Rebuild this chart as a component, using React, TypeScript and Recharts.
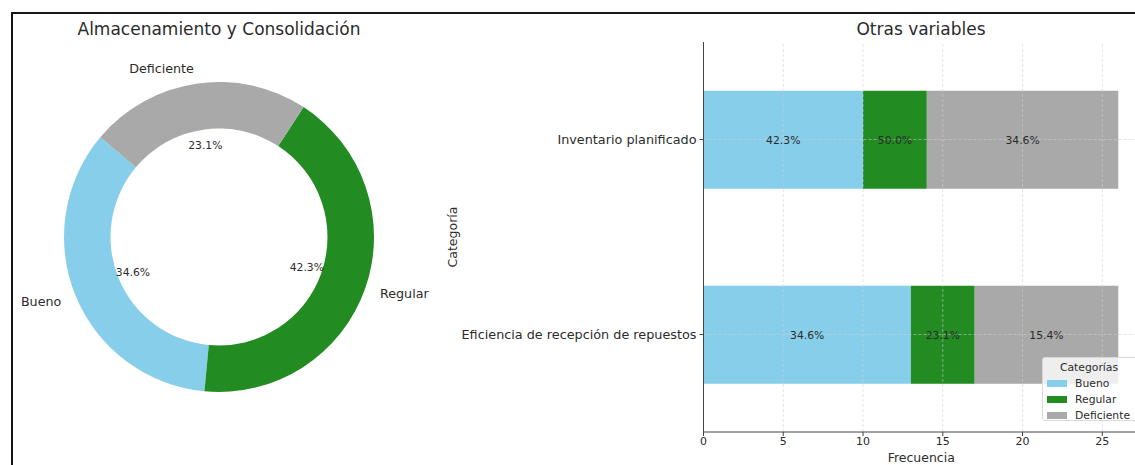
import { Bar, BarChart, Cell, LabelList, Pie, PieChart, ReferenceLine, XAxis, YAxis } from "recharts";

// Almacenamiento y Consolidación (counts per rating)
const pieNames = ["Bueno", "Regular", "Deficiente"];
const pieCounts = [9, 11, 6];

// Otras variables
const categories = ["Inventario planificado", "Eficiencia de recepción de repuestos"];
const buenoCounts = [10, 13];
const regularCounts = [4, 4];
const deficienteCounts = [12, 9];
const buenoLabels = ["42.3%", "34.6%"];
const regularLabels = ["50.0%", "23.1%"];
const deficienteLabels = ["34.6%", "15.4%"];
const xTicks = [0, 5, 10, 15, 20, 25];

const COLORS: Record<string, string> = {
  Bueno: "#87ceeb",
  Regular: "#228b22",
  Deficiente: "#a9a9a9",
};

const FONT = "'DejaVu Sans', Verdana, sans-serif";
const TEXT = "#2b2b2b";
const RADIAN = Math.PI / 180;

const pieData = pieNames.map((name, i) => ({ name, value: pieCounts[i] }));

const barData = categories.map((name, i) => ({
  name,
  Bueno: buenoCounts[i],
  Regular: regularCounts[i],
  Deficiente: deficienteCounts[i],
  buenoLabel: buenoLabels[i],
  regularLabel: regularLabels[i],
  deficienteLabel: deficienteLabels[i],
}));

function PieLabel(props: any) {
  const { cx, cy, midAngle, outerRadius, percent, name } = props;
  const cos = Math.cos(-midAngle * RADIAN);
  const sin = Math.sin(-midAngle * RADIAN);
  const rp = outerRadius * 0.6;
  const rn = outerRadius * 1.1;
  const nx = cx + rn * cos;
  return (
    <g>
      <text
        x={cx + rp * cos}
        y={cy + rp * sin}
        textAnchor="middle"
        dominantBaseline="central"
        fontSize={10.8}
        fontFamily={FONT}
        fill={TEXT}
      >
        {(percent * 100).toFixed(1)}%
      </text>
      <text
        x={nx}
        y={cy + rn * sin}
        textAnchor={nx < cx ? "end" : "start"}
        dominantBaseline="central"
        fontSize={12.7}
        fontFamily={FONT}
        fill={TEXT}
      >
        {name}
      </text>
    </g>
  );
}

const barLabelStyle = { fontSize: 10.8, fontFamily: FONT, fill: TEXT };
const gridProps = { stroke: "#d0d0d0", strokeOpacity: 0.55, strokeDasharray: "3 2" };

export default function App() {
  return (
    <div
      style={{
        position: "fixed",
        left: 0,
        top: 0,
        width: 1135,
        height: 465,
        overflow: "hidden",
        background: "#fff",
        fontFamily: FONT,
      }}
    >
      <div
        style={{
          position: "absolute",
          left: 11,
          top: 12,
          width: 1200,
          height: 520,
          borderTop: "2px solid #151515",
          borderLeft: "2px solid #151515",
        }}
      />

      <div
        style={{
          position: "absolute",
          left: 0,
          width: 438,
          top: 19,
          textAlign: "center",
          fontSize: 17,
          color: TEXT,
          whiteSpace: "nowrap",
        }}
      >
        Almacenamiento y Consolidación
      </div>

      <div style={{ position: "absolute", left: 0, top: 0 }}>
        <PieChart width={440} height={465} margin={{ top: 0, right: 0, bottom: 0, left: 0 }}>
          <Pie
            data={pieData}
            dataKey="value"
            nameKey="name"
            cx={219}
            cy={237}
            innerRadius={108.5}
            outerRadius={155}
            startAngle={140}
            endAngle={500}
            stroke="none"
            label={PieLabel}
            labelLine={false}
            isAnimationActive={false}
          >
            {pieData.map((d) => (
              <Cell key={d.name} fill={COLORS[d.name]} />
            ))}
          </Pie>
        </PieChart>
      </div>

      <div
        style={{
          position: "absolute",
          left: 821,
          width: 200,
          top: 19,
          textAlign: "center",
          fontSize: 17,
          color: TEXT,
        }}
      >
        Otras variables
      </div>

      <div
        style={{
          position: "absolute",
          left: 452,
          top: 237,
          transform: "translate(-50%, -50%) rotate(-90deg)",
          fontSize: 12.5,
          color: TEXT,
          whiteSpace: "nowrap",
        }}
      >
        Categoría
      </div>

      <div style={{ position: "absolute", left: 430, top: 0 }}>
        <BarChart
          width={720}
          height={465}
          data={barData}
          layout="vertical"
          margin={{ top: 42, right: 11, bottom: 0, left: 0 }}
          barCategoryGap="25%"
        >
          <XAxis
            type="number"
            domain={[0, 27.3]}
            ticks={xTicks}
            height={33}
            axisLine={{ stroke: "#444" }}
            tickLine={{ stroke: "#444" }}
            tickSize={4}
            tickMargin={1}
            tick={{ fontSize: 11, fontFamily: FONT, fill: TEXT }}
            label={{
              value: "Frecuencia",
              position: "insideBottom",
              offset: 3,
              style: { fontSize: 12.5, fontFamily: FONT, fill: TEXT },
            }}
          />
          <YAxis
            type="category"
            dataKey="name"
            width={273.5}
            axisLine={{ stroke: "#444" }}
            tickLine={{ stroke: "#444" }}
            tickSize={4}
            tickMargin={3}
            tick={{ fontSize: 12.8, fontFamily: FONT, fill: TEXT }}
          />
          <Bar dataKey="Bueno" stackId="a" fill={COLORS.Bueno} isAnimationActive={false}>
            <LabelList dataKey="buenoLabel" position="center" style={barLabelStyle} />
          </Bar>
          <Bar dataKey="Regular" stackId="a" fill={COLORS.Regular} isAnimationActive={false}>
            <LabelList dataKey="regularLabel" position="center" style={barLabelStyle} />
          </Bar>
          <Bar dataKey="Deficiente" stackId="a" fill={COLORS.Deficiente} isAnimationActive={false}>
            <LabelList dataKey="deficienteLabel" position="center" style={barLabelStyle} />
          </Bar>
          {xTicks.slice(1).map((t) => (
            <ReferenceLine key={t} x={t} {...gridProps} />
          ))}
          {categories.map((c) => (
            <ReferenceLine key={c} y={c} {...gridProps} />
          ))}
        </BarChart>
      </div>

      <div
        style={{
          position: "absolute",
          left: 1042,
          top: 357,
          width: 120,
          height: 64,
          boxSizing: "border-box",
          border: "1px solid #d8d8d8",
          borderRadius: 3,
          background: "rgba(255,255,255,0.8)",
          fontSize: 10.8,
          color: TEXT,
        }}
      >
        <div style={{ position: "absolute", left: 0, width: 92, top: 3, textAlign: "center" }}>
          Categorías
        </div>
        {pieNames.map((name, i) => (
          <div
            key={name}
            style={{
              position: "absolute",
              left: 4,
              top: 18 + i * 16,
              display: "flex",
              alignItems: "center",
              height: 14,
            }}
          >
            <span
              style={{
                display: "inline-block",
                width: 20,
                height: 7,
                background: COLORS[name],
                marginRight: 8,
              }}
            />
            <span>{name}</span>
          </div>
        ))}
      </div>
    </div>
  );
}
